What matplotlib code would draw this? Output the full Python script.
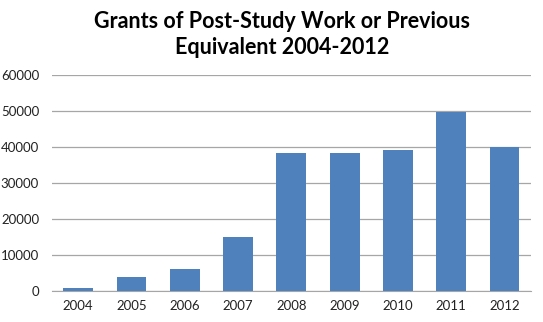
import matplotlib.pyplot as plt
import numpy as np

years = ['2004', '2005', '2006', '2007', '2008', '2009', '2010', '2011', '2012']
grants = [850, 3700, 6000, 15000, 38400, 38400, 39300, 49700, 40100]
yticks = [0, 10000, 20000, 30000, 40000, 50000, 60000]

plt.rcParams['font.family'] = ['Lato', 'DejaVu Sans']

fig = plt.figure(figsize=(5.43, 3.22), dpi=100)
ax = fig.add_axes([0.095, 0.097, 0.883, 0.669])

x = np.arange(len(years))
ax.bar(x, grants, width=0.56, color='#4F81BD', zorder=3)

ax.set_xlim(-0.5, len(years) - 0.5)
ax.set_ylim(0, 60000)
ax.set_yticks(yticks)
ax.set_yticklabels([str(v) for v in yticks])
ax.set_xticks(x)
ax.set_xticklabels(years)
ax.yaxis.grid(True, color='#A6A6A6', linewidth=0.9, zorder=0)

for s in ['top', 'right', 'left']:
    ax.spines[s].set_visible(False)
ax.spines['bottom'].set_color('#A6A6A6')
ax.tick_params(axis='both', length=0, labelsize=9.5, colors='#222222')
ax.tick_params(axis='x', pad=7)
ax.tick_params(axis='y', pad=9)

fig.suptitle('Grants of Post-Study Work or Previous\nEquivalent 2004-2012',
             x=0.52, y=0.965, fontsize=15.5, fontweight='bold', linespacing=1.3)

plt.savefig('out.png', dpi=100)
